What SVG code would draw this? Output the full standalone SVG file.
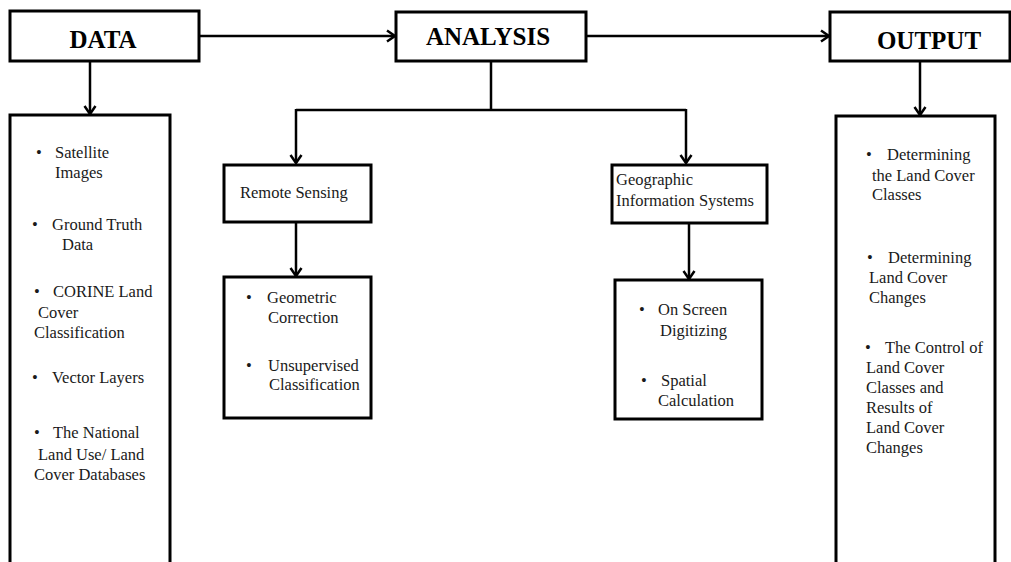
<svg xmlns="http://www.w3.org/2000/svg" width="1011" height="562" viewBox="0 0 1011 562">
<style>
.box{fill:#fff;stroke:#000;stroke-width:3}
.con{fill:none;stroke:#000;stroke-width:2.5}
.h{font-family:"Liberation Serif","Times New Roman",serif;font-weight:bold;font-size:25px;fill:#000;text-anchor:middle}
.t{font-family:"Liberation Serif","Times New Roman",serif;font-size:16.5px;fill:#1a1a1a}
</style>
<defs>
<marker id="arr" markerUnits="userSpaceOnUse" markerWidth="14" markerHeight="14" refX="11" refY="7" orient="auto">
<path d="M3,1.5 L11,7 L3,12.5" fill="none" stroke="#000" stroke-width="2.5"/>
</marker>
</defs>
<rect width="1011" height="562" fill="#fff"/>
<g id="connectors">
<line class="con" x1="199" y1="36" x2="395" y2="36" marker-end="url(#arr)"/>
<line class="con" x1="586" y1="36" x2="829" y2="36" marker-end="url(#arr)"/>
<line class="con" x1="90" y1="61" x2="90" y2="114" marker-end="url(#arr)"/>
<line class="con" x1="920" y1="61" x2="920" y2="115" marker-end="url(#arr)"/>
<polyline class="con" points="491,61 491,110"/>
<polyline class="con" points="296,110 686,110"/>
<line class="con" x1="296" y1="109" x2="296" y2="163" marker-end="url(#arr)"/>
<line class="con" x1="686" y1="109" x2="686" y2="163" marker-end="url(#arr)"/>
<line class="con" x1="296" y1="222" x2="296" y2="276" marker-end="url(#arr)"/>
<line class="con" x1="689" y1="223" x2="689" y2="279" marker-end="url(#arr)"/>
</g>
<g id="data">
<rect class="box" x="10" y="11" width="189" height="50"/>
<text class="h" x="103" y="48">DATA</text>
</g>
<g id="analysis">
<rect class="box" x="396" y="12" width="190" height="49"/>
<text class="h" x="488" y="45">ANALYSIS</text>
</g>
<g id="output">
<rect class="box" x="830" y="12" width="180" height="49"/>
<text class="h" x="929" y="49">OUTPUT</text>
</g>
<g id="data-list">
<rect class="box" x="10" y="115" width="160" height="460"/>
<text class="t"><tspan x="36" y="158">•</tspan><tspan x="55" y="158">Satellite</tspan><tspan x="55" y="178">Images</tspan></text>
<text class="t"><tspan x="32" y="230">•</tspan><tspan x="52" y="230">Ground Truth</tspan><tspan x="62" y="250">Data</tspan></text>
<text class="t"><tspan x="34" y="297">•</tspan><tspan x="53" y="297">CORINE Land</tspan><tspan x="38" y="318">Cover</tspan><tspan x="34" y="338">Classification</tspan></text>
<text class="t"><tspan x="32" y="383">•</tspan><tspan x="52" y="383">Vector Layers</tspan></text>
<text class="t"><tspan x="34" y="438">•</tspan><tspan x="53" y="438">The National</tspan><tspan x="38" y="460">Land Use/ Land</tspan><tspan x="34" y="480">Cover Databases</tspan></text>
</g>
<g id="remote-sensing">
<rect class="box" x="224" y="165" width="147" height="57"/>
<text class="t" x="240" y="198">Remote Sensing</text>
</g>
<g id="rs-list">
<rect class="box" x="224" y="277" width="147" height="141"/>
<text class="t"><tspan x="246" y="303">•</tspan><tspan x="267" y="303">Geometric</tspan><tspan x="268" y="323">Correction</tspan></text>
<text class="t"><tspan x="246" y="371">•</tspan><tspan x="268" y="371">Unsupervised</tspan><tspan x="269" y="390">Classification</tspan></text>
</g>
<g id="gis">
<rect class="box" x="612" y="165" width="155" height="58"/>
<text class="t"><tspan x="616" y="185">Geographic</tspan><tspan x="616" y="206">Information Systems</tspan></text>
</g>
<g id="gis-list">
<rect class="box" x="615" y="280" width="147" height="139"/>
<text class="t"><tspan x="639" y="315">•</tspan><tspan x="658" y="315">On Screen</tspan><tspan x="660" y="336">Digitizing</tspan></text>
<text class="t"><tspan x="641" y="386">•</tspan><tspan x="661" y="386">Spatial</tspan><tspan x="658" y="406">Calculation</tspan></text>
</g>
<g id="output-list">
<rect class="box" x="836" y="116" width="159" height="460"/>
<text class="t"><tspan x="866" y="160">•</tspan><tspan x="887" y="160">Determining</tspan><tspan x="872" y="181">the Land Cover</tspan><tspan x="872" y="200">Classes</tspan></text>
<text class="t"><tspan x="867" y="263">•</tspan><tspan x="888" y="263">Determining</tspan><tspan x="869" y="283">Land Cover</tspan><tspan x="869" y="303">Changes</tspan></text>
<text class="t"><tspan x="865" y="353">•</tspan><tspan x="885" y="353">The Control of</tspan><tspan x="866" y="373">Land Cover</tspan><tspan x="866" y="393">Classes and</tspan><tspan x="866" y="413">Results of</tspan><tspan x="866" y="433">Land Cover</tspan><tspan x="866" y="453">Changes</tspan></text>
</g>
</svg>
